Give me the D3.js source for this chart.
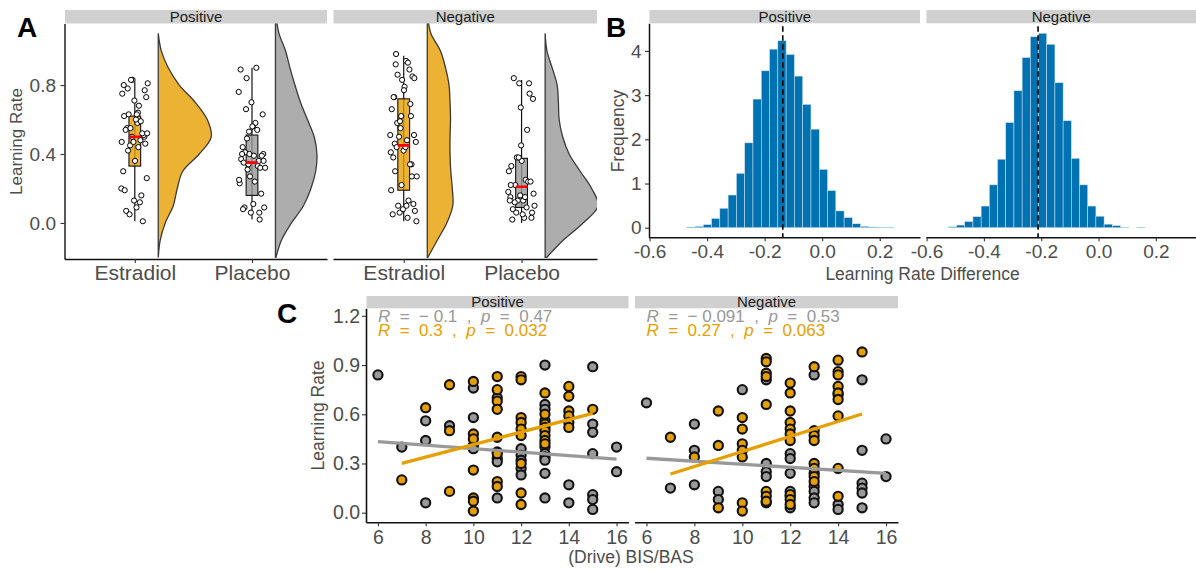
<!DOCTYPE html>
<html>
<head>
<meta charset="utf-8">
<script src="https://cdn.jsdelivr.net/npm/d3@7"></script>
<style>
  body { margin: 0; background: #fff; }
  svg { font-family: "Liberation Sans", Arial, sans-serif; }
</style>
</head>
<body>
<svg id="fig" width="1196" height="571"></svg>
<script>
// ---------------- data ----------------
const facets = ["Positive", "Negative"];
const groups = ["Estradiol", "Placebo"];

// Per-subject BIS/BAS drive score and learning rate, by feedback valence and group
const estPosDrive = [7, 8, 9, 9, 9, 10, 10, 10, 10, 10, 10, 10, 11, 11, 11, 11, 11, 11, 11, 11,
  12, 12, 12, 12, 12, 12, 12, 12, 12, 13, 13, 13, 13, 13, 13, 13, 13, 14, 14, 14, 14, 14, 14, 15];
const estPosRate = [0.20, 0.64, 0.78, 0.50, 0.13, 0.80, 0.48, 0.45, 0.26, 0.09, 0.07, 0.01,
  0.83, 0.75, 0.68, 0.63, 0.46, 0.36, 0.19, 0.16,
  0.83, 0.81, 0.58, 0.55, 0.51, 0.47, 0.30, 0.12, 0.05,
  0.73, 0.60, 0.54, 0.52, 0.50, 0.47, 0.44, 0.42,
  0.77, 0.71, 0.62, 0.59, 0.55, 0.52, 0.63];

const placPosDrive = [6, 7, 8, 8, 8, 9, 10, 10, 10, 10, 11, 11, 11, 11, 11, 12, 12, 12, 12, 12,
  13, 13, 13, 13, 13, 13, 13, 13, 13, 13, 14, 14, 15, 15, 15, 15, 15, 15, 15, 16, 16];
const placPosRate = [0.84, 0.40, 0.56, 0.44, 0.06, 0.53, 0.76, 0.58, 0.41, 0.39,
  0.70, 0.37, 0.33, 0.31, 0.09, 0.39, 0.35, 0.32, 0.27, 0.23,
  0.90, 0.66, 0.63, 0.56, 0.40, 0.36, 0.34, 0.32, 0.24, 0.09,
  0.17, 0.06, 0.89, 0.54, 0.49, 0.36, 0.11, 0.08, 0.02, 0.40, 0.25];

const estNegDrive = [7, 8, 9, 9, 9, 10, 10, 10, 10, 10, 10, 10, 11, 11, 11, 11, 11, 11, 11, 11,
  12, 12, 12, 12, 12, 12, 12, 12, 12, 12, 13, 13, 13, 13, 13, 13, 13, 13,
  14, 14, 14, 14, 14, 14, 14, 14, 14, 15];
const estNegRate = [0.46, 0.34, 0.62, 0.41, 0.03, 0.58, 0.51, 0.42, 0.38, 0.34, 0.06, 0.01,
  0.94, 0.92, 0.85, 0.83, 0.66, 0.13, 0.10, 0.07,
  0.79, 0.73, 0.62, 0.55, 0.51, 0.48, 0.44, 0.11, 0.08, 0.05,
  0.89, 0.50, 0.47, 0.44, 0.30, 0.27, 0.22, 0.19,
  0.93, 0.86, 0.84, 0.77, 0.73, 0.69, 0.59, 0.27, 0.10, 0.98];

const placNegDrive = [6, 7, 8, 8, 8, 9, 9, 10, 11, 11, 11, 11, 11, 12, 12, 12, 12, 12, 12,
  13, 13, 13, 13, 13, 13, 14, 14, 14, 15, 15, 15, 15, 15, 15, 16, 16];
const placNegRate = [0.67, 0.15, 0.54, 0.38, 0.17, 0.13, 0.08, 0.75,
  0.81, 0.30, 0.25, 0.22, 0.06, 0.36, 0.33, 0.24, 0.13, 0.10, 0.03,
  0.84, 0.24, 0.16, 0.13, 0.09, 0.06, 0.72, 0.05, 0.02,
  0.81, 0.38, 0.18, 0.15, 0.12, 0.03, 0.45, 0.22];

// Box-plot summaries (lower whisker, Q1, median, Q3, upper whisker)
const estPosBox = [0.01, 0.33, 0.50, 0.62, 0.82];
const placPosBox = [0.02, 0.16, 0.35, 0.51, 0.90];
const estNegBox = [0.01, 0.19, 0.45, 0.72, 0.97];
const placNegBox = [0.00, 0.09, 0.21, 0.375, 0.83];

// Kernel density of learning rate, evaluated on densityGrid
const densityGrid = [-0.2, -0.1, 0.0, 0.1, 0.2, 0.3, 0.4, 0.5, 0.6, 0.7, 0.8, 0.9, 1.0, 1.1, 1.2];
const estPosDensity = [0, 0.08, 0.28, 0.60, 0.76, 0.98, 1.64, 2.12, 1.96, 1.48, 0.84, 0.40, 0.12, 0, 0];
const placPosDensity = [0.02, 0.24, 0.64, 1.12, 1.42, 1.61, 1.66, 1.55, 1.28, 1.00, 0.78, 0.58, 0.40, 0.14, 0.02];
const estNegDensity = [0.02, 0.40, 0.78, 1.02, 1.00, 0.94, 0.91, 0.91, 0.93, 0.91, 0.87, 0.73, 0.52, 0.14, 0.02];
const placNegDensity = [0.06, 0.72, 1.52, 2.12, 1.86, 1.40, 0.96, 0.70, 0.56, 0.53, 0.48, 0.28, 0.07, 0, 0];

// Posterior of the Estradiol - Placebo learning-rate difference
const histBinWidth = [0.0288, 0.0286];
const histStart = [-0.471, -0.524];
const posHistFreq = [0.015, 0.03, 0.07, 0.21, 0.44, 0.74, 1.23, 1.92, 2.91, 3.55, 4.04, 4.23, 3.92,
  3.43, 2.79, 2.23, 1.32, 0.84, 0.38, 0.23, 0.09, 0.03, 0.015, 0.01, 0.01];
const negHistFreq = [0.02, 0.06, 0.14, 0.25, 0.49, 0.97, 1.55, 2.38, 3.10, 3.85, 4.32, 4.40, 4.15,
  3.28, 2.42, 1.57, 0.97, 0.49, 0.26, 0.08, 0.045, 0.01, 0, 0.01];
const diffMean = [-0.137, -0.211];

// Linear fits of learning rate on drive score: [intercept, slope]
const estPosFit = [0.0343, 0.0381];
const placPosFit = [0.4966, -0.0106];
const estNegFit = [-0.0843, 0.04575];
const placNegFit = [0.3872, -0.0092];

// Pearson correlation labels
const estR = ["0.3", "0.27"];
const estP = ["0.032", "0.063"];
const placR = ["\u22120.1", "\u22120.091"];
const placP = ["0.47", "0.53"];

// Tick values
const aYTicks = [0.0, 0.4, 0.8];
const bXTicks = [-0.6, -0.4, -0.2, 0.0, 0.2];
const bYTicks = [0, 1, 2, 3, 4];
const cXTicks = [6, 8, 10, 12, 14, 16];
const cYTicks = [0.0, 0.3, 0.6, 0.9, 1.2];

// ---------------- drawing ----------------
const ORANGE = "#E69F00", GREY = "#999999";
const TXT = "#4D4D4D";
const svg = d3.select("#fig");
const defs = svg.append("defs");
let clipN = 0;
function clipRect(x0, y0, x1, y1) {
  const id = "panelclip" + (clipN++);
  defs.append("clipPath").attr("id", id).append("rect")
    .attr("x", x0).attr("y", y0).attr("width", x1 - x0).attr("height", y1 - y0);
  return `url(#${id})`;
}
function strip(x0, x1, y0, y1, label) {
  svg.append("rect").attr("x", x0).attr("y", y0).attr("width", x1 - x0).attr("height", y1 - y0)
    .attr("fill", "#D0D0D0");
  svg.append("text").attr("x", (x0 + x1) / 2).attr("y", y1 - 1.5).attr("text-anchor", "middle")
    .attr("font-size", 15).attr("fill", "#1A1A1A").text(label);
}
function styleAxis(g, size, width) {
  g.attr("font-family", null).attr("font-size", null);
  g.select(".domain").attr("stroke", "#111").attr("stroke-width", width);
  g.selectAll(".tick line").attr("stroke", "#333").attr("stroke-width", 1.1);
  g.selectAll(".tick text").attr("fill", TXT).attr("font-size", size)
    .attr("font-family", '"Liberation Sans", Arial, sans-serif');
}
function panelLetter(x, y, s) {
  svg.append("text").attr("x", x).attr("y", y).attr("font-size", 28).attr("font-weight", "bold")
    .attr("fill", "#000").text(s);
}
function yTitle(x, y, s, size) {
  svg.append("text").attr("transform", `translate(${x},${y}) rotate(-90)`).attr("text-anchor", "middle")
    .attr("font-size", size).attr("fill", TXT).text(s);
}
const fmt1 = d => d.toFixed(1);
// keep the density curve only between its outermost zero-width ends
function trimDensity(pts) {
  let lo = 0, hi = pts.length - 1;
  while (lo < hi && pts[lo + 1].d === 0 && pts[lo].d === 0) lo++;
  while (hi > lo && pts[hi - 1].d === 0 && pts[hi].d === 0) hi--;
  return pts.slice(lo, hi + 1);
}

// ===== Panel A: raincloud plots =====
const aTop = 23.5, aBot = 259;
const aY = d3.scaleLinear().domain([-0.209, 1.157]).range([aBot, aTop]);
const aPanels = [{ x0: 64.5, x1: 327 }, { x0: 333, x1: 597 }];
const aRates = [[estPosRate, placPosRate], [estNegRate, placNegRate]];
const aBoxes = [[estPosBox, placPosBox], [estNegBox, placNegBox]];
const aDens = [[estPosDensity, placPosDensity], [estNegDensity, placNegDensity]];
const densPx = d3.scaleLinear().domain([0, 1]).range([0, 25]);

aPanels.forEach((p, fi) => {
  const x = d3.scaleLinear().domain([0.4, 2.64]).range([p.x0, p.x1]);
  strip(p.x0 + 0.5, p.x1, 10, aTop, facets[fi]);
  const g = svg.append("g").attr("clip-path", clipRect(p.x0, aTop, p.x1, aBot));
  groups.forEach((grp, gi) => {
    const pos = gi + 1;
    const fill = gi === 0 ? ORANGE : GREY;
    // half violin
    const base = x(pos + 0.2);
    const dens = trimDensity(densityGrid.map((v, i) => ({ v, d: aDens[fi][gi][i] })));
    const area = d3.area().curve(d3.curveCatmullRom)
      .y(d => aY(d.v)).x0(base).x1(d => base + densPx(d.d));
    g.append("path").attr("d", area(dens)).attr("fill", fill).attr("fill-opacity", 0.8)
      .attr("stroke", "#3a3a3a").attr("stroke-width", 1.3);
    // box
    const b = aBoxes[fi][gi];
    const cx = x(pos), hw = x(pos + 0.05) - x(pos);
    g.append("line").attr("x1", cx).attr("x2", cx).attr("y1", aY(b[0])).attr("y2", aY(b[4]))
      .attr("stroke", "#111").attr("stroke-width", 1.2);
    g.append("rect").attr("x", cx - hw).attr("width", 2 * hw).attr("y", aY(b[3]))
      .attr("height", aY(b[1]) - aY(b[3])).attr("fill", fill).attr("fill-opacity", 0.8)
      .attr("stroke", "#111").attr("stroke-width", 1.1);
    // jittered subjects
    const rates = aRates[fi][gi];
    g.selectAll(null).data(rates).enter().append("circle")
      .attr("cx", (d, i) => x(pos + (((i * 0.618034 + 0.3 * gi + 0.17 * fi) % 1) - 0.5) * 0.23))
      .attr("cy", d => aY(d)).attr("r", 2.6)
      .attr("fill", "#fff").attr("stroke", "#000").attr("stroke-width", 1);
    // median
    g.append("line").attr("x1", cx - hw).attr("x2", cx + hw).attr("y1", aY(b[2])).attr("y2", aY(b[2]))
      .attr("stroke", "#FF0000").attr("stroke-width", 2.6);
  });
  const ax = svg.append("g").attr("transform", `translate(0,${aBot})`)
    .call(d3.axisBottom(x).tickValues([1, 2]).tickFormat(d => groups[d - 1]).tickSize(4).tickSizeOuter(0).tickPadding(2.5));
  styleAxis(ax, 21, 1.4);
  if (fi === 0) {
    const ay = svg.append("g").attr("transform", `translate(${p.x0},0)`)
      .call(d3.axisLeft(aY).tickValues(aYTicks).tickFormat(fmt1).tickSize(4).tickSizeOuter(0).tickPadding(4.5));
    styleAxis(ay, 19, 1.4);
  }
});
yTitle(22, 141.5, "Learning Rate", 17);
panelLetter(17, 37, "A");

// ===== Panel B: posterior difference histograms =====
const bTop = 23.3, bBot = 237.3;
const bY = d3.scaleLinear().domain([-0.217, 4.625]).range([bBot, bTop]);
const bPanels = [{ x0: 649, x1: 920 }, { x0: 926, x1: 1196 }];
const bFreq = [posHistFreq, negHistFreq];
bPanels.forEach((p, fi) => {
  const x = d3.scaleLinear().domain([-0.602, 0.340]).range([p.x0, p.x1]);
  strip(p.x0 + 0.5, p.x1, 10, bTop, facets[fi]);
  const g = svg.append("g").attr("clip-path", clipRect(p.x0, bTop, p.x1, bBot));
  const bw = histBinWidth[fi];
  const bins = bFreq[fi].map((f, i) => ({ x: histStart[fi] + i * bw, f })).filter(b => b.f > 0);
  g.selectAll(null).data(bins).enter().append("rect")
    .attr("x", d => x(d.x)).attr("width", x(bw) - x(0))
    .attr("y", d => bY(d.f)).attr("height", d => bY(0) - bY(d.f))
    .attr("fill", "#0072B2").attr("stroke", "#d7e6f2").attr("stroke-width", 0.5);
  g.append("line").attr("x1", x(diffMean[fi])).attr("x2", x(diffMean[fi]))
    .attr("y1", bTop + 3).attr("y2", bBot)
    .attr("stroke", "#000").attr("stroke-width", 1.6).attr("stroke-dasharray", "5.5,3.5");
  const ax = svg.append("g").attr("transform", `translate(0,${bBot})`)
    .call(d3.axisBottom(x).tickValues(bXTicks).tickFormat(fmt1).tickSize(4).tickSizeOuter(0).tickPadding(3.5));
  styleAxis(ax, 19, 1.5);
  if (fi === 0) {
    const ay = svg.append("g").attr("transform", `translate(${p.x0},0)`)
      .call(d3.axisLeft(bY).tickValues(bYTicks).tickFormat(d3.format("d")).tickSize(4).tickSizeOuter(0).tickPadding(3.5));
    styleAxis(ay, 19, 1.5);
  }
});
yTitle(624, 131, "Frequency", 17.5);
svg.append("text").attr("x", 922.5).attr("y", 280).attr("text-anchor", "middle")
  .attr("font-size", 17.5).attr("fill", TXT).text("Learning Rate Difference");
panelLetter(606, 37, "B");

// ===== Panel C: learning rate vs. BIS/BAS drive =====
const cTop = 308.3, cBot = 522.3;
const cY = d3.scaleLinear().domain([-0.0585, 1.246]).range([cBot, cTop]);
const cPanels = [{ x0: 366, x1: 628.5 }, { x0: 634.5, x1: 898 }];
const cDrive = [[estPosDrive, placPosDrive], [estNegDrive, placNegDrive]];
const cFit = [[estPosFit, placPosFit], [estNegFit, placNegFit]];
cPanels.forEach((p, fi) => {
  const x = d3.scaleLinear().domain([5.5, 16.5]).range([p.x0, p.x1]);
  strip(p.x0 + 0.5, p.x1, 296, cTop, facets[fi]);
  const g = svg.append("g");
  // placebo first, estradiol on top
  [1, 0].forEach(gi => {
    const drive = cDrive[fi][gi], rate = aRates[fi][gi];
    g.selectAll(null).data(drive.map((d, i) => [d, rate[i]])).enter().append("circle")
      .attr("cx", d => x(d[0])).attr("cy", d => cY(d[1])).attr("r", 4.6)
      .attr("fill", gi === 0 ? ORANGE : GREY).attr("stroke", "#111").attr("stroke-width", 2.1);
  });
  [1, 0].forEach(gi => {
    const drive = cDrive[fi][gi], f = cFit[fi][gi];
    const ext = d3.extent(drive);
    g.append("line").attr("x1", x(ext[0])).attr("x2", x(ext[1]))
      .attr("y1", cY(f[0] + f[1] * ext[0])).attr("y2", cY(f[0] + f[1] * ext[1]))
      .attr("stroke", gi === 0 ? ORANGE : GREY).attr("stroke-width", 3.3);
  });
  // correlation labels
  const labels = [
    { r: placR[fi], p: placP[fi], c: GREY, y: 1.16 },
    { r: estR[fi], p: estP[fi], c: ORANGE, y: 1.077 }
  ];
  labels.forEach(l => {
    const t = svg.append("text").attr("x", x(6)).attr("y", cY(l.y)).attr("font-size", 17)
      .attr("fill", l.c).style("white-space", "pre");
    const rTxt = l.r.startsWith("\u2212") ? "\u2212 " + l.r.slice(1) : l.r;
    t.append("tspan").attr("font-style", "italic").text("R");
    t.append("tspan").text("  =  " + rTxt + "  ,  ");
    t.append("tspan").attr("font-style", "italic").text("p");
    t.append("tspan").text("  =  " + l.p);
  });
  const ax = svg.append("g").attr("transform", `translate(0,${cBot})`)
    .call(d3.axisBottom(x).tickValues(cXTicks).tickFormat(d3.format("d")).tickSize(4).tickSizeOuter(0).tickPadding(3.4));
  styleAxis(ax, 19.5, 1.6);
  if (fi === 0) {
    const ay = svg.append("g").attr("transform", `translate(${p.x0},0)`)
      .call(d3.axisLeft(cY).tickValues(cYTicks).tickFormat(fmt1).tickSize(4).tickSizeOuter(0).tickPadding(2));
    styleAxis(ay, 19.5, 1.6);
  }
});
yTitle(324, 415.5, "Learning Rate", 17.5);
svg.append("text").attr("x", 631).attr("y", 563).attr("text-anchor", "middle")
  .attr("font-size", 17.5).attr("fill", TXT).text("(Drive) BIS/BAS");
panelLetter(277, 323, "C");
</script>
</body>
</html>
